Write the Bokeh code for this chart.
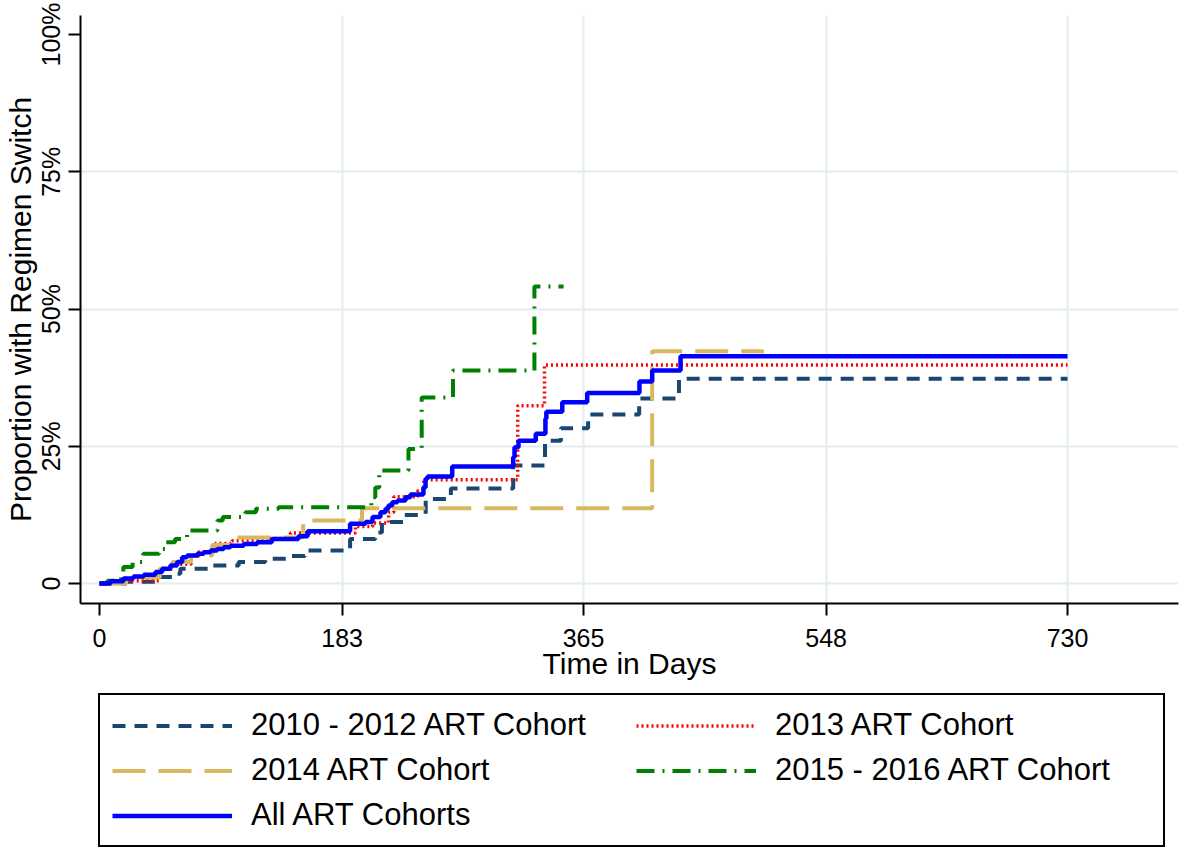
from bokeh.plotting import figure
from bokeh.layouts import column
from bokeh.models import Range1d, FixedTicker, Legend, LegendItem
from bokeh.embed import file_html
from bokeh.resources import INLINE

# ---- data: step change points (days, percent with regimen switch) ----
c1012_days = [0, 20, 44, 56, 61, 85, 105, 125, 145, 155, 189, 208, 213, 230, 246, 265,
              312, 336, 348, 368.5, 407, 437, 730]
c1012_pct = [0, 0.3, 1.2, 1.8, 2.7, 3.3, 3.9, 4.5, 5.0, 6.0, 8.1, 9.3, 11.2, 12.5, 15.4, 17.3,
             21.5, 26.0, 28.3, 30.8, 33.7, 37.3, 37.3]

c2013_days = [0, 22, 44.7, 55, 69, 75, 87.5, 100, 129, 144, 193, 206, 218, 222, 240, 244.5,
              315.4, 335.6, 730]
c2013_pct = [0, 0.5, 2.6, 3.5, 5.0, 5.8, 7.3, 7.8, 8.2, 9.2, 10.4, 11.0, 13.0, 15.8, 16.9, 18.9,
             32.4, 39.8, 39.8]

c2014_days = [0, 20, 45.5, 55, 69, 85, 101, 153.6, 198, 416.8, 501]
c2014_pct = [0, 1.1, 2.7, 3.9, 5.1, 7.0, 8.4, 11.5, 13.7, 42.3, 42.3]

c1516_days = [0, 6, 16.4, 18, 25, 33, 45, 50, 57, 66, 89, 93, 110, 118, 135, 205, 208, 211,
              233, 243, 266.6, 328, 350]
c1516_pct = [0, 0.5, 2.1, 3.0, 3.9, 5.4, 6.3, 7.5, 8.1, 9.65, 11.5, 12.1, 13.0, 13.6, 13.9, 15.7,
             17.5, 20.6, 24.5, 33.9, 38.8, 54.1, 54.1]

all_days = [0, 8.3, 18.1, 25.6, 33.4, 42.2, 47.3, 53.5, 58.6, 62.4, 66.1, 73.7, 78.7, 83.7,
            88.8, 93.7, 98.8, 108.8, 118.9, 130, 150, 157, 189, 200.6, 205.9, 211.9, 215.7,
            217.9, 220.7, 224.7, 230.8, 234.5, 244.3, 245.9, 247.4, 266, 312, 313, 316, 329,
            336.3, 337, 349, 367.8, 407.2, 416.8, 438.2, 730]
all_pct = [0, 0.4, 0.9, 1.3, 1.6, 2.1, 2.7, 3.3, 3.9, 4.8, 5.1, 5.4, 5.7, 6.0, 6.3, 6.6, 6.9,
           7.2, 7.5, 8.1, 8.6, 9.5, 10.9, 11.2, 12.1, 13.0, 13.6, 14.2, 14.8, 15.1, 15.7, 16.2,
           17.5, 19.1, 19.5, 21.3, 23.0, 24.8, 26.0, 27.3, 30.0, 31.3, 33.0, 34.7, 36.8, 38.8,
           41.4, 41.4]

x_ticks = [0, 183, 365, 548, 730]
y_ticks = [0, 25, 50, 75, 100]
y_tick_labels = ["0", "25%", "50%", "75%", "100%"]
series_labels = ["2010 - 2012 ART Cohort", "2013 ART Cohort", "2014 ART Cohort",
                 "2015 - 2016 ART Cohort", "All ART Cohorts"]

FONT = "Liberation Sans"

styles = [
    dict(line_color="#1a476f", line_width=4, line_dash="13 9"),
    dict(line_color="#ff0000", line_width=3.5, line_dash="2 3"),
    dict(line_color="#d6b95e", line_width=4, line_dash="33 13"),
    dict(line_color="#007f00", line_width=4, line_dash="18 8 2 8"),
    dict(line_color="#0000ff", line_width=4.5),
]

p = figure(width=1180, height=682, output_backend="svg", toolbar_location=None,
           x_range=Range1d(-14.3, 813.7), y_range=Range1d(-3.64, 103.46),
           min_border_left=0, min_border_right=2, min_border_top=15, min_border_bottom=0)
p.outline_line_color = None
p.background_fill_color = "white"
p.border_fill_color = "white"

# grid
p.xgrid.ticker = FixedTicker(ticks=[183, 365, 548, 730])
p.ygrid.ticker = FixedTicker(ticks=[0, 25, 50, 75])
for g in (p.xgrid, p.ygrid):
    g.grid_line_color = "#e3ecf0"
    g.grid_line_width = 2

# axes
for ax in (p.xaxis, p.yaxis):
    ax.axis_line_color = "black"
    ax.axis_line_width = 2
    ax.major_tick_line_color = "black"
    ax.major_tick_line_width = 2
    ax.major_tick_in = 0
    ax.major_tick_out = 12
    ax.minor_tick_line_color = None
    ax.major_label_text_font = FONT
    ax.major_label_text_font_size = "25px"
    ax.major_label_text_color = "black"
    ax.axis_label_text_font = FONT
    ax.axis_label_text_font_size = "30px"
    ax.axis_label_text_font_style = "normal"
    ax.axis_label_text_color = "black"

p.xaxis.ticker = FixedTicker(ticks=x_ticks)
p.xaxis.axis_label = "Time in Days"
p.xaxis.major_label_standoff = 13
p.xaxis.axis_label_standoff = -3

p.yaxis.ticker = FixedTicker(ticks=y_ticks)
p.yaxis.major_label_overrides = {t: l for t, l in zip(y_ticks, y_tick_labels)}
p.yaxis.major_label_orientation = "vertical"
p.yaxis.axis_label = "Proportion with Regimen Switch"
p.yaxis.major_label_standoff = 3
p.yaxis.axis_label_standoff = -2

series = [(c1012_days, c1012_pct), (c2013_days, c2013_pct), (c2014_days, c2014_pct),
          (c1516_days, c1516_pct), (all_days, all_pct)]
for (d, v), st in zip(series, styles):
    p.step(d, v, mode="after", **st)

# ---- legend panel (separate figure below the plot; its frame aligns with the plot's) ----
p2 = figure(width=1180, height=166, output_backend="svg", toolbar_location=None,
            x_range=Range1d(0, 1), y_range=Range1d(0, 1), x_axis_type=None, y_axis_type=None,
            min_border=0)
p2.outline_line_color = None
p2.background_fill_color = "white"
p2.border_fill_color = "white"

# legend-only renderers (kept outside the visible range)
legend_renderers = [p2.line([-5, -4], [-5, -5], **st) for st in styles]

lg = Legend(items=[LegendItem(label=l, renderers=[r]) for l, r in zip(series_labels, legend_renderers)],
            location=(18, 1), orientation="horizontal", ncols=2)
lg.label_text_font = FONT
lg.label_text_font_size = "31px"
lg.label_text_color = "black"
lg.glyph_width = 120
lg.glyph_height = 35
lg.label_height = 35
lg.label_width = 376
lg.label_standoff = 19
lg.spacing = 9
lg.padding = 12
lg.margin = 0
lg.border_line_color = "black"
lg.border_line_alpha = 1
lg.border_line_width = 2
lg.background_fill_color = "white"
lg.background_fill_alpha = 1
p2.add_layout(lg, "center")

layout = column(p, p2, spacing=0)
open("out.html", "w").write(file_html(layout, INLINE))
